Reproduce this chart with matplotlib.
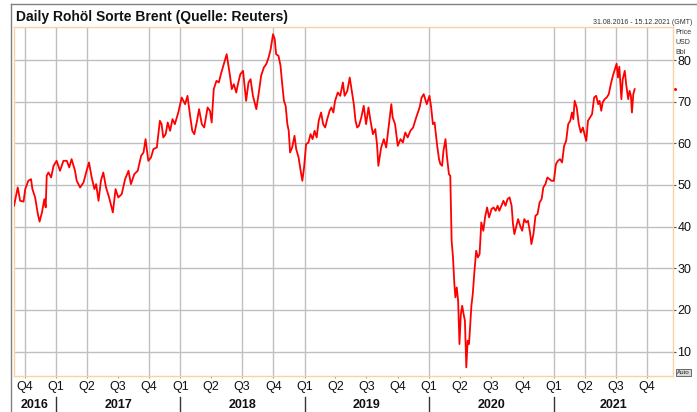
import matplotlib

matplotlib.use("Agg")
import matplotlib.pyplot as plt
import matplotlib.transforms as mtransforms
import pandas as pd
from matplotlib.lines import Line2D

plt.rcParams["font.family"] = ["Liberation Sans", "DejaVu Sans"]

# --- data --------------------------------------------------------------------------------
title = "Daily Rohöl Sorte Brent (Quelle: Reuters)"
range_label = "31.08.2016 - 15.12.2021 (GMT)"
unit_lines = ["Price", "USD", "Bbl"]

x_start, x_end = "2016-08-31", "2021-12-15"
y_min, y_max = 4.2, 88.0
y_ticks = [10, 20, 30, 40, 50, 60, 70, 80]
years = [2016, 2017, 2018, 2019, 2020, 2021]
# the vertical grid of the source chart is not drawn at every quarter
grid_dates = ["2016-10-01", "2017-01-01", "2017-04-01", "2017-10-01", "2018-01-01",
              "2018-07-01", "2018-10-01", "2019-01-01", "2020-01-01", "2021-01-01",
              "2021-04-01", "2021-07-01", "2021-10-01"]

dates_2016 = ["2016-08-31", "2016-09-11", "2016-09-18", "2016-09-28", "2016-10-03", "2016-10-12",
              "2016-10-20", "2016-10-24", "2016-11-01", "2016-11-09", "2016-11-14", "2016-11-21",
              "2016-11-28", "2016-12-02", "2016-12-05", "2016-12-10", "2016-12-18", "2016-12-25"]
price_2016 = [45.0, 49.4, 46.2, 46.0, 49.0, 51.0, 51.4, 49.0, 47.0, 43.0, 41.2, 43.4,
              46.6, 44.6, 52.2, 53.0, 51.8, 54.6]

dates_2017 = ["2017-01-03", "2017-01-13", "2017-01-23", "2017-02-02", "2017-02-09", "2017-02-16",
              "2017-02-26", "2017-03-03", "2017-03-13", "2017-03-23", "2017-04-01", "2017-04-08",
              "2017-04-16", "2017-04-24", "2017-04-29", "2017-05-06", "2017-05-13", "2017-05-20",
              "2017-05-28", "2017-06-06", "2017-06-17", "2017-06-25", "2017-07-03", "2017-07-13",
              "2017-07-23", "2017-08-02", "2017-08-09", "2017-08-19", "2017-08-29", "2017-09-08",
              "2017-09-15", "2017-09-21", "2017-09-29", "2017-10-07", "2017-10-14", "2017-10-24",
              "2017-11-02", "2017-11-07", "2017-11-12", "2017-11-19", "2017-11-25", "2017-12-02",
              "2017-12-09", "2017-12-16", "2017-12-26"]
price_2017 = [55.8, 53.4, 55.8, 55.8, 54.2, 56.2, 53.4, 51.0, 49.4, 50.6, 53.4, 55.4,
              51.8, 49.0, 50.2, 46.2, 51.0, 53.0, 49.4, 47.0, 43.4, 49.0, 47.0, 47.8,
              51.4, 53.4, 50.2, 52.6, 53.4, 57.0, 57.8, 61.0, 55.8, 56.6, 58.6, 59.0,
              65.4, 64.6, 61.4, 62.2, 65.0, 63.0, 65.8, 64.6, 67.4]

dates_2018 = ["2018-01-05", "2018-01-15", "2018-01-22", "2018-01-29", "2018-02-05", "2018-02-11",
              "2018-02-19", "2018-02-25", "2018-03-05", "2018-03-12", "2018-03-22", "2018-03-29",
              "2018-04-03", "2018-04-09", "2018-04-17", "2018-04-24", "2018-04-30", "2018-05-07",
              "2018-05-17", "2018-05-26", "2018-06-01", "2018-06-07", "2018-06-14", "2018-06-19",
              "2018-06-26", "2018-07-04", "2018-07-09", "2018-07-13", "2018-07-20", "2018-07-26",
              "2018-08-02", "2018-08-12", "2018-08-20", "2018-08-26", "2018-09-03", "2018-09-10",
              "2018-09-17", "2018-09-23", "2018-09-30", "2018-10-05", "2018-10-09", "2018-10-16",
              "2018-10-22", "2018-10-26", "2018-11-01", "2018-11-06", "2018-11-11", "2018-11-15",
              "2018-11-19", "2018-11-25", "2018-12-02", "2018-12-07", "2018-12-14", "2018-12-20",
              "2018-12-25", "2018-12-30"]
price_2018 = [71.0, 69.4, 71.4, 67.0, 63.0, 62.2, 65.4, 68.2, 64.6, 63.8, 68.6, 67.8,
              65.0, 73.0, 75.0, 74.6, 76.6, 78.6, 81.4, 76.6, 73.0, 74.2, 72.2, 74.2,
              76.6, 77.4, 73.4, 70.2, 74.6, 75.4, 71.4, 68.2, 72.6, 76.2, 78.2, 79.0,
              80.6, 82.6, 86.2, 85.0, 81.4, 81.0, 78.6, 75.0, 70.2, 69.0, 64.6, 63.0,
              57.8, 59.0, 61.8, 58.6, 56.6, 53.4, 51.0, 54.2]

dates_2019 = ["2019-01-05", "2019-01-12", "2019-01-18", "2019-01-24", "2019-01-30", "2019-02-05",
              "2019-02-11", "2019-02-18", "2019-02-24", "2019-03-02", "2019-03-08", "2019-03-15",
              "2019-03-20", "2019-03-26", "2019-03-31", "2019-04-08", "2019-04-15", "2019-04-23",
              "2019-04-28", "2019-05-06", "2019-05-13", "2019-05-19", "2019-05-25", "2019-05-30",
              "2019-06-04", "2019-06-09", "2019-06-16", "2019-06-23", "2019-06-30", "2019-07-07",
              "2019-07-13", "2019-07-20", "2019-07-27", "2019-08-01", "2019-08-05", "2019-08-13",
              "2019-08-21", "2019-08-28", "2019-09-04", "2019-09-12", "2019-09-16", "2019-09-23",
              "2019-10-01", "2019-10-09", "2019-10-16", "2019-10-23", "2019-10-30", "2019-11-07",
              "2019-11-15", "2019-11-24", "2019-12-04", "2019-12-10", "2019-12-16", "2019-12-25"]
price_2019 = [59.8, 60.2, 62.2, 61.0, 63.0, 61.4, 65.4, 67.4, 64.6, 63.8, 65.8, 67.8,
              68.6, 67.4, 70.2, 72.2, 71.4, 74.6, 71.4, 72.6, 75.8, 72.6, 69.4, 65.4,
              63.8, 64.2, 66.2, 69.0, 64.6, 68.6, 65.4, 62.2, 63.4, 59.8, 54.6, 58.9,
              61.0, 59.0, 63.8, 69.4, 66.2, 64.6, 59.4, 61.0, 60.2, 62.6, 61.4, 63.0,
              63.8, 66.2, 68.6, 71.0, 71.8, 69.4]

dates_2020 = ["2020-01-02", "2020-01-07", "2020-01-12", "2020-01-17", "2020-01-24", "2020-01-30",
              "2020-02-03", "2020-02-08", "2020-02-12", "2020-02-18", "2020-02-22", "2020-02-28",
              "2020-03-03", "2020-03-07", "2020-03-11", "2020-03-15", "2020-03-18", "2020-03-22",
              "2020-03-26", "2020-03-30", "2020-04-03", "2020-04-07", "2020-04-11", "2020-04-15",
              "2020-04-19", "2020-04-23", "2020-04-27", "2020-04-30", "2020-05-04", "2020-05-08",
              "2020-05-13", "2020-05-18", "2020-05-23", "2020-05-28", "2020-06-02", "2020-06-08",
              "2020-06-13", "2020-06-19", "2020-06-25", "2020-07-02", "2020-07-08", "2020-07-14",
              "2020-07-20", "2020-07-25", "2020-07-31", "2020-08-06", "2020-08-12", "2020-08-18",
              "2020-08-24", "2020-08-30", "2020-09-03", "2020-09-07", "2020-09-12", "2020-09-18",
              "2020-09-24", "2020-09-30", "2020-10-06", "2020-10-12", "2020-10-17", "2020-10-23",
              "2020-10-27", "2020-11-02", "2020-11-08", "2020-11-14", "2020-11-20", "2020-11-26",
              "2020-12-01", "2020-12-07", "2020-12-13", "2020-12-19", "2020-12-25"]
price_2020 = [71.4, 68.6, 64.6, 65.0, 59.8, 56.2, 55.0, 54.6, 58.2, 61.0, 57.0, 52.6,
              52.2, 36.6, 32.6, 26.2, 23.0, 25.4, 22.2, 11.8, 19.0, 21.0, 19.0, 17.4,
              6.2, 12.6, 11.8, 15.8, 21.0, 23.8, 29.4, 34.2, 32.6, 33.4, 41.0, 39.0,
              42.2, 44.6, 42.2, 44.2, 44.6, 43.8, 45.0, 43.8, 45.0, 46.2, 45.0, 46.6,
              47.0, 45.0, 40.6, 38.2, 39.8, 41.8, 40.2, 39.0, 41.8, 41.0, 41.4, 38.6,
              35.8, 38.2, 42.6, 43.0, 45.8, 46.6, 49.4, 50.2, 51.8, 51.4, 51.0]

dates_2021 = ["2021-01-01", "2021-01-07", "2021-01-13", "2021-01-19", "2021-01-25", "2021-01-31",
              "2021-02-06", "2021-02-12", "2021-02-18", "2021-02-23", "2021-02-27", "2021-03-03",
              "2021-03-09", "2021-03-15", "2021-03-21", "2021-03-27", "2021-04-02", "2021-04-06",
              "2021-04-11", "2021-04-17", "2021-04-23", "2021-04-29", "2021-05-05", "2021-05-11",
              "2021-05-15", "2021-05-20", "2021-05-24", "2021-05-30", "2021-06-05", "2021-06-11",
              "2021-06-17", "2021-06-23", "2021-06-29", "2021-07-04", "2021-07-08", "2021-07-12",
              "2021-07-18", "2021-07-22", "2021-07-28", "2021-08-01", "2021-08-07", "2021-08-11",
              "2021-08-15", "2021-08-18", "2021-08-22", "2021-08-26"]
price_2021 = [51.0, 55.0, 55.8, 56.2, 55.4, 59.4, 60.6, 64.6, 65.4, 67.4, 65.8, 70.2,
              68.6, 64.6, 62.6, 63.8, 61.8, 60.6, 65.4, 66.2, 67.0, 71.0, 71.4, 69.4,
              70.2, 67.8, 69.8, 70.6, 71.0, 71.8, 74.2, 76.2, 77.8, 79.1, 75.8, 78.4,
              70.6, 75.4, 77.4, 74.2, 70.6, 72.6, 71.4, 67.4, 71.8, 73.0]

dates = pd.to_datetime(dates_2016 + dates_2017 + dates_2018 + dates_2019 + dates_2020 + dates_2021)
prices = price_2016 + price_2017 + price_2018 + price_2019 + price_2020 + price_2021

# --- layout helpers (pixel positions of the 697x412 reference) ------------------------------
W, H, DPI = 697, 412, 100


def fx(px):
    return px / W


def fy(py):
    return 1 - py / H


GRID = "#c0c0c0"
FRAME = "#fbd2a2"

fig = plt.figure(figsize=(W / DPI, H / DPI), dpi=DPI, facecolor="white")
ax = fig.add_axes([fx(14), fy(375.7), fx(672.5) - fx(14), fy(26.7) - fy(375.7)])

ax.plot(dates, prices, color="#ff0000", lw=1.3, zorder=3)

x0, x1 = pd.Timestamp(x_start), pd.Timestamp(x_end)
ax.set_xlim(x0, x1)
ax.set_ylim(y_min, y_max)

# grid
for y in y_ticks:
    ax.axhline(y, color=GRID, lw=1.0, zorder=1)
for d in grid_dates:
    ax.axvline(pd.Timestamp(d), color=GRID, lw=1.0, zorder=1)

for s in ax.spines.values():
    s.set_color(FRAME)
    s.set_linewidth(1.0)

# y axis on the right
ax.yaxis.tick_right()
ax.set_yticks(y_ticks)
ax.set_yticklabels([str(v) for v in y_ticks])
ax.tick_params(axis="y", direction="out", length=2, width=0.8, color="#555555",
               labelsize=9, labelcolor="#111111", pad=1.5)

# quarter ticks
quarters = pd.date_range("2016-10-01", "2021-10-01", freq="QS")
ax.set_xticks(quarters)
ax.set_xticklabels([f"Q{d.quarter}" for d in quarters])
ax.tick_params(axis="x", direction="out", length=1.5, width=0.8, color="#999999",
               labelsize=9, labelcolor="#111111", pad=2.5)

# year row under the quarters
xfig = mtransforms.blended_transform_factory(ax.transData, fig.transFigure)
for yr in years:
    start = max(pd.Timestamp(f"{yr}-01-01"), x0)
    end = min(pd.Timestamp(f"{yr + 1}-01-01"), x1)
    ax.text(start + (end - start) / 2, fy(405), str(yr), transform=xfig, ha="center",
            va="center", fontsize=9, fontweight="bold", color="#111111", clip_on=False)
    if yr > years[0]:
        d = pd.Timestamp(f"{yr}-01-01")
        ax.plot([d, d], [fy(397), fy(412)], transform=xfig, color="#333333", lw=1.0,
                clip_on=False)

# last price marker on the right axis
ax.plot([1.004], [prices[-1]], marker="o", ms=2.2, color="#ff0000", mec="none",
        transform=mtransforms.blended_transform_factory(ax.transAxes, ax.transData),
        clip_on=False)

# header texts
fig.text(fx(16), fy(21), title, ha="left", va="baseline", fontsize=10, fontweight="bold",
         color="#111111")
fig.text(fx(692), fy(24), range_label, ha="right", va="baseline", fontsize=5, color="#333333")
for i, line in enumerate(unit_lines):
    fig.text(fx(675), fy(33.5 + 10 * i), line, ha="left", va="baseline", fontsize=5,
             color="#333333")

fig.text(fx(683.5), fy(372.5), "Auto", ha="center", va="center", fontsize=4.5, color="#222222",
         bbox=dict(boxstyle="square,pad=0.15", facecolor="#d9d9d9", edgecolor="#555555", lw=0.6))

# outer frame (top and left edges)
fig.add_artist(Line2D([fx(11), 1], [fy(4), fy(4)], color="#808080", lw=1.0))
fig.add_artist(Line2D([fx(11), fx(11)], [fy(4), 0], color="#808080", lw=1.0))

fig.savefig("out.png", dpi=DPI, facecolor="white")
